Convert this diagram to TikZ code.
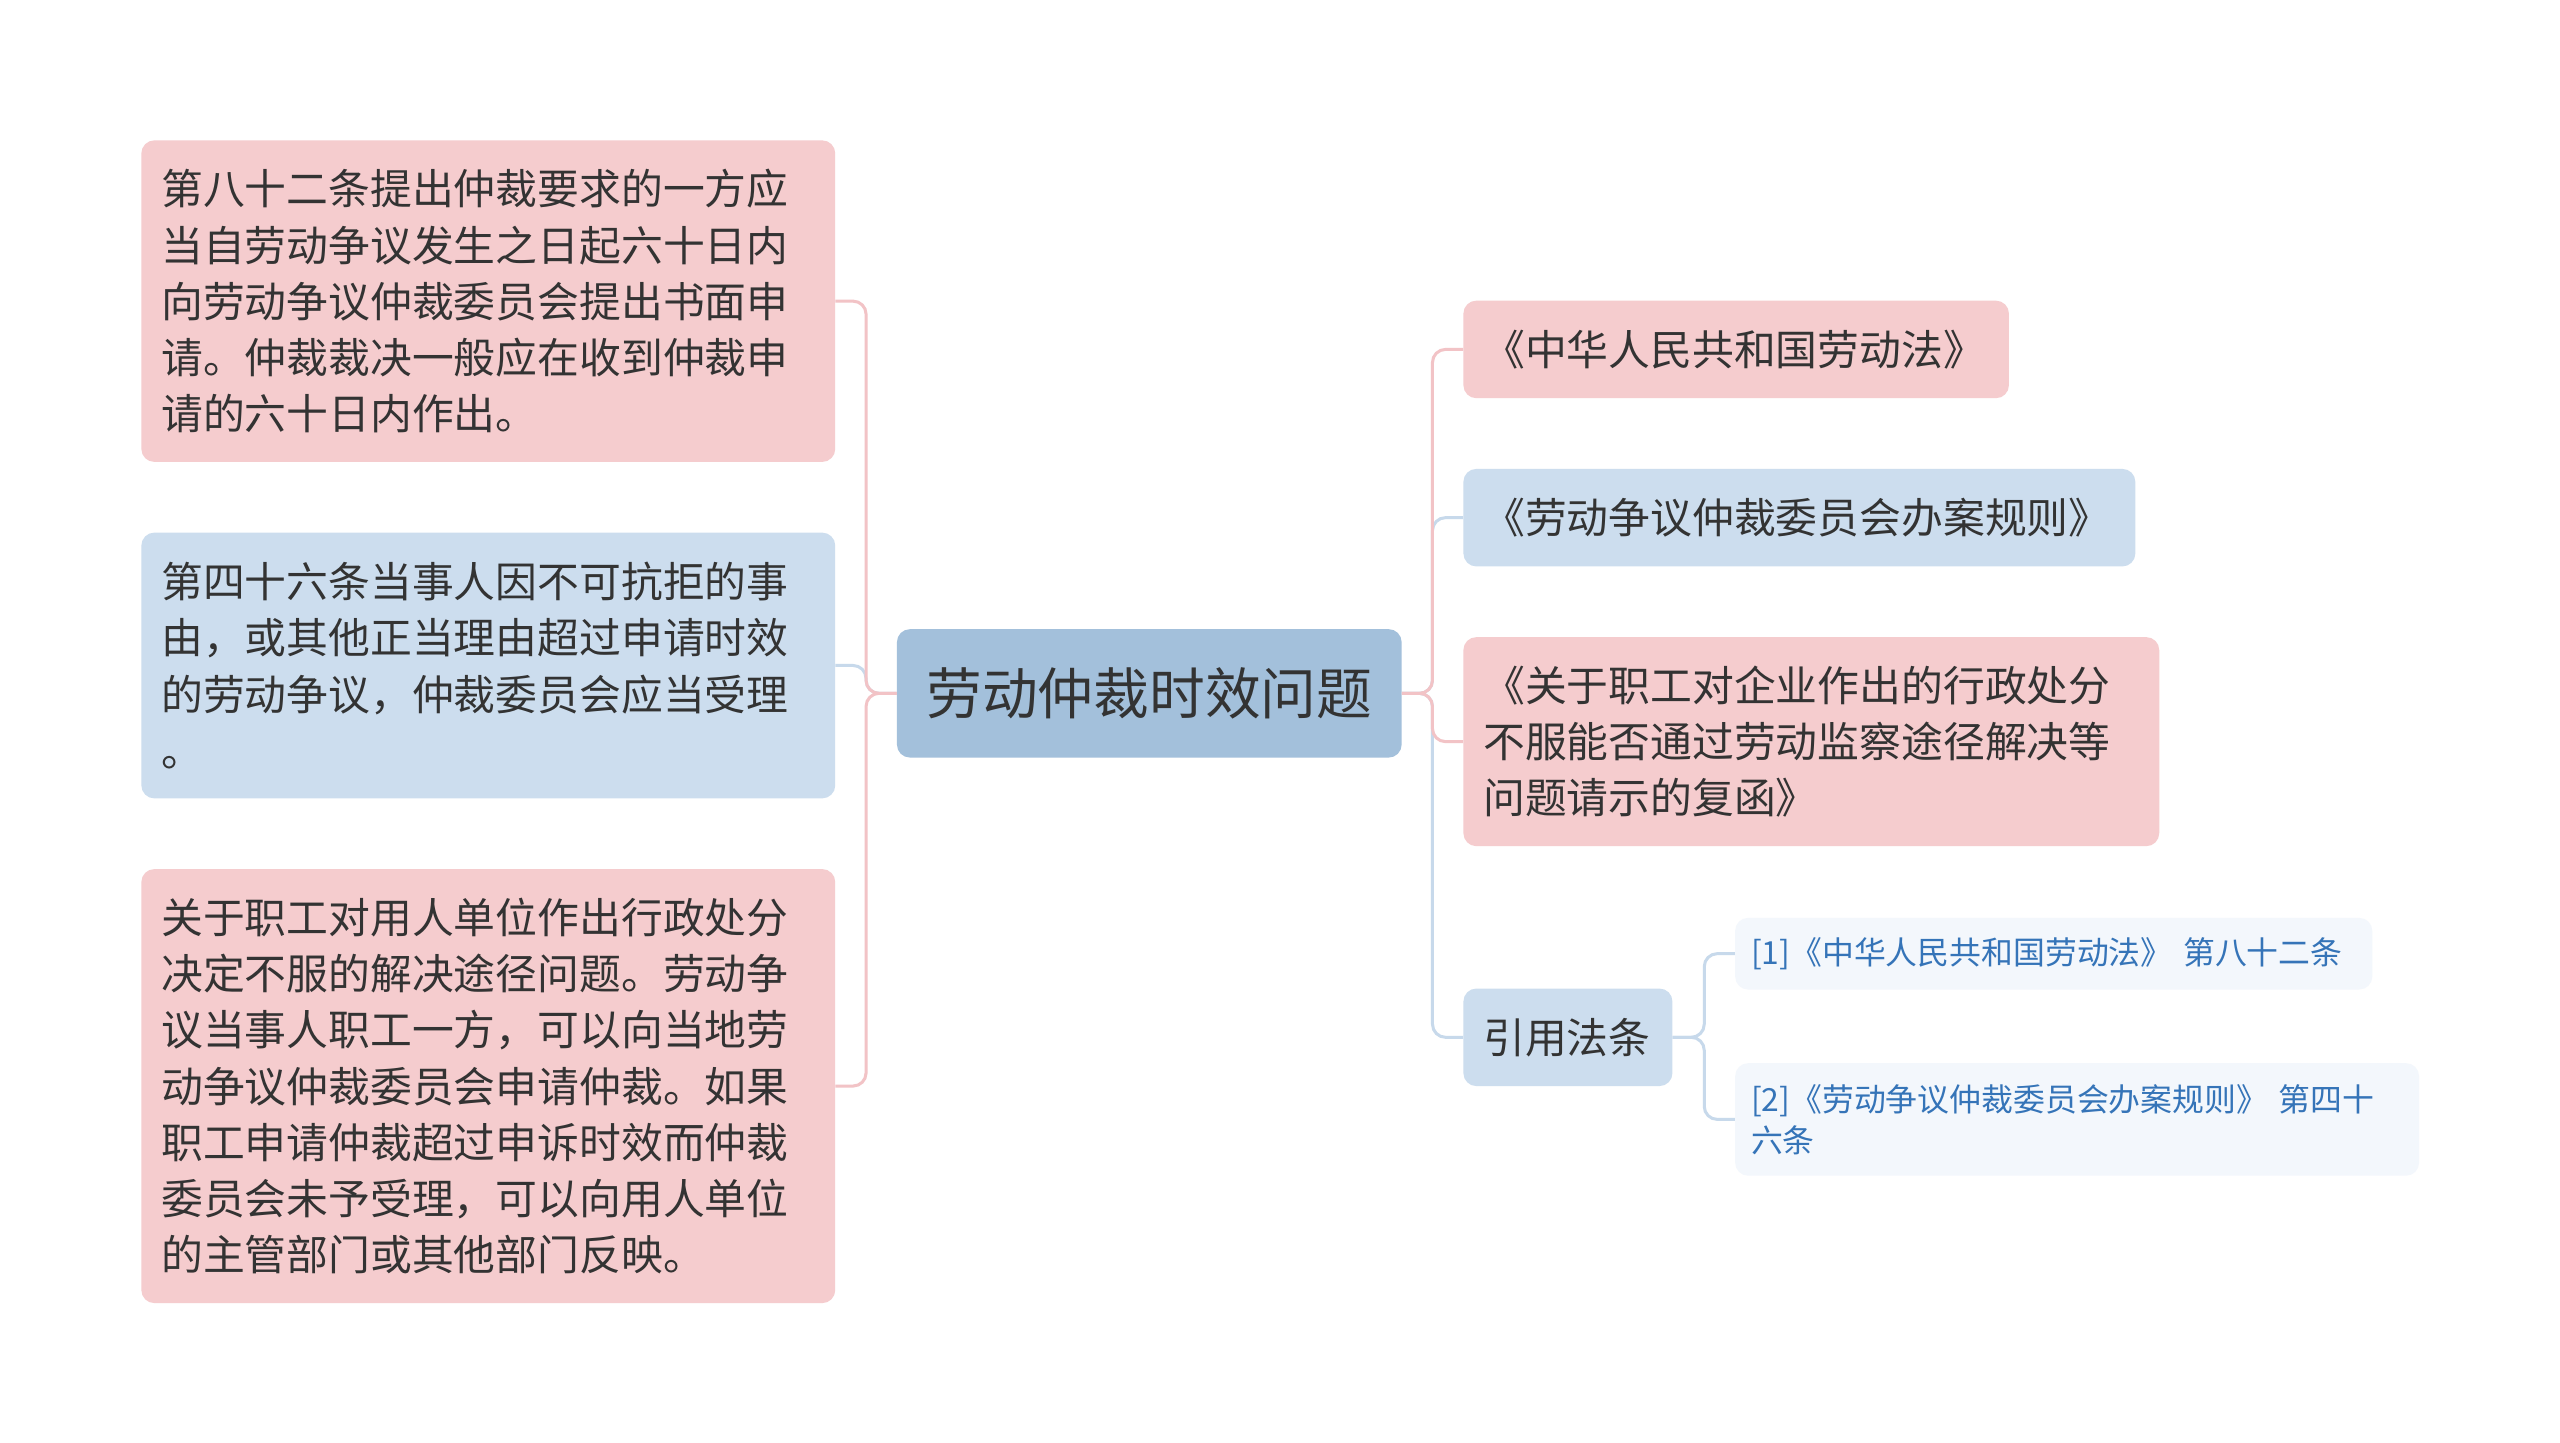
\documentclass[tikz,border=0pt]{standalone}
\usepackage{fontspec}
\setmainfont{Noto Sans CJK SC}
\usetikzlibrary{positioning}

\definecolor{pinkbox}{HTML}{F5CCCE}
\definecolor{bluebox}{HTML}{CCDDEE}
\definecolor{rootbox}{HTML}{A3C0DB}
\definecolor{subbox}{HTML}{F3F7FC}
\definecolor{pinkedge}{HTML}{F2C3C6}
\definecolor{blueedge}{HTML}{C7D9EB}
\definecolor{subtext}{HTML}{3574B8}
\definecolor{maintext}{HTML}{333333}

\tikzset{
  card/.style={rounded corners=13pt, inner xsep=20pt, inner ysep=0pt, align=left,
               text=maintext, font=\fontsize{42}{56.4}\selectfont},
  pinkcard/.style={card, fill=pinkbox},
  bluecard/.style={card, fill=bluebox},
  subcard/.style={card, fill=subbox, inner xsep=16pt, text=subtext,
                  font=\fontsize{32}{41}\selectfont},
  link/.style={line width=3pt, rounded corners=13pt},
  pinklink/.style={link, draw=pinkedge},
  bluelink/.style={link, draw=blueedge},
}

\begin{document}
\begin{tikzpicture}[x=1pt,y=-1pt]
            % frame
            \useasboundingbox[fill=white] (0,0) rectangle (2560,1443);
            \begin{scope}[scale=0.9955, transform shape]
            % root
            \node[card, fill=rootbox, align=center, minimum width=507pt, minimum height=129pt,
                  font=\fontsize{56}{64}\selectfont] (root) at (1154.5,696.5) {劳动仲裁时效问题};
            % left cards
            \node[pinkcard, text width=657pt, minimum height=323pt] (l1) at (490.5,302.5)
                {第八十二条提出仲裁要求的一方应\\当自劳动争议发生之日起六十日内\\向劳动争议仲裁委员会提出书面申\\请。仲裁裁决一般应在收到仲裁申\\请的六十日内作出。};
            \node[bluecard, text width=657pt, minimum height=267pt] (l2) at (490.5,668.5)
                {第四十六条当事人因不可抗拒的事\\由，或其他正当理由超过申请时效\\的劳动争议，仲裁委员会应当受理\\。};
            \node[pinkcard, text width=657pt, minimum height=436pt] (l3) at (490.5,1091)
                {关于职工对用人单位作出行政处分\\决定不服的解决途径问题。劳动争\\议当事人职工一方，可以向当地劳\\动争议仲裁委员会申请仲裁。如果\\职工申请仲裁超过申诉时效而仲裁\\委员会未予受理，可以向用人单位\\的主管部门或其他部门反映。};
            % right cards
            \node[pinkcard, text width=508pt, minimum height=98pt] (r1) at (1744,351)
                {《中华人民共和国劳动法》};
            \node[bluecard, text width=635pt, minimum height=98pt] (r2) at (1807.5,520)
                {《劳动争议仲裁委员会办案规则》};
            \node[pinkcard, text width=659pt, minimum height=210pt] (r3) at (1819.5,745)
                {《关于职工对企业作出的行政处分\\不服能否通过劳动监察途径解决等\\问题请示的复函》};
            \node[bluecard, text width=170pt, minimum height=98pt] (cite) at (1575,1042)
                {引用法条};
            % cited articles
            \node[subcard, text width=608pt, minimum height=72pt] (s1) at (2063,958)
                {[1]《中华人民共和国劳动法》 第八十二条};
            \node[subcard, text width=655pt, minimum height=113pt] (s2) at (2086.5,1124.5)
                {[2]《劳动争议仲裁委员会办案规则》 第四十\\六条};
            % buses
            \coordinate (lbus) at (870,0);
            \coordinate (rbus) at (1439,0);
            \coordinate (sbus) at (1712,0);
            % links
            \foreach \n/\s in {l2/bluelink,l1/pinklink,l3/pinklink}{\draw[\s] (root.west) -- (root.west -| lbus) |- (\n.east);}
            \foreach \n/\s in {r2/bluelink,cite/bluelink,r1/pinklink,r3/pinklink}{\draw[\s] (root.east) -- (root.east -| rbus) |- (\n.west);}
            \foreach \n in {s1,s2}{\draw[bluelink] (cite.east) -- (cite.east -| sbus) |- (\n.west);}
            \end{scope}
        \end{tikzpicture}
\end{document}
